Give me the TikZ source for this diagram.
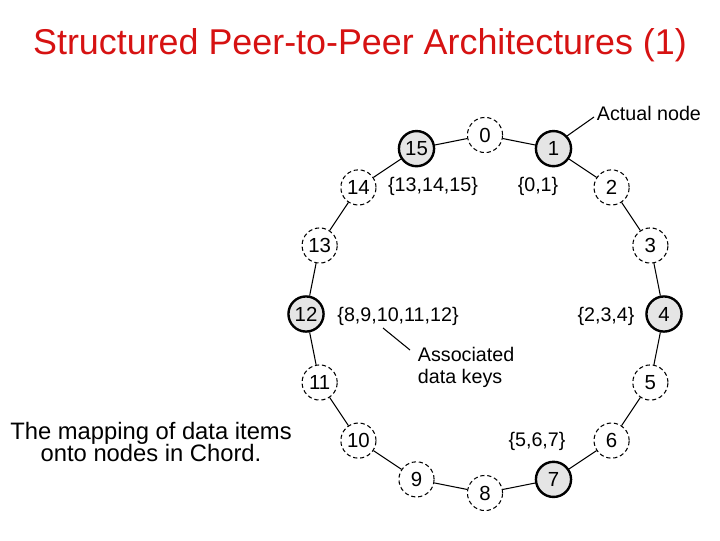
\documentclass[tikz,border=0pt]{standalone}
\usepackage{fontspec}
\setmainfont{Liberation Sans}
\usetikzlibrary{calc}
\definecolor{titlered}{RGB}{214,18,18}
\definecolor{peerfill}{gray}{0.9}

\begin{document}
\begin{tikzpicture}[x=0.025cm,y=-0.025cm,
  peer/.style={circle,draw,densely dashed,line width=0.75pt,minimum size=25pt,
    inner sep=0pt,fill=white,font=\fontsize{14.5}{16}\selectfont},
  actual/.style={peer,solid,line width=1.7pt,fill=peerfill},
  keys/.style={font=\fontsize{14}{16}\selectfont}]
  % Parameters
\def\R{179}      % ring radius

 \useasboundingbox (0,0) rectangle (720,540);
 \coordinate (C) at (485,314);

  % Title and caption
  \node[font=\fontsize{25.5}{30}\selectfont,text=titlered] (title) at (360,45)
    {Structured Peer-to-Peer Architectures (1)};
  \node[font=\fontsize{16.9}{16.3}\selectfont,align=center] (caption) at (151,442)
    {The mapping of data items\\onto nodes in Chord.};

  % Ring of identifiers
  \foreach \k/\s in {0/peer,1/actual,2/peer,3/peer,4/actual,5/peer,6/peer,7/actual,
                     8/peer,9/peer,10/peer,11/peer,12/actual,13/peer,14/peer,15/actual}
    \node[\s] (n\k) at ($(C)+({22.5*\k-90}:\R)$) {\k};
  \foreach \k [evaluate=\k as \j using {int(mod(\k+1,16))}] in {0,...,15}
    \draw[line width=0.75pt] (n\k) -- (n\j);

  % Data keys
\node[keys] (k15) at (433,186) {\{13,14,15\}};
\node[keys] (k1) at (538,186) {\{0,1\}};
\node[keys] (k4) at (606,316) {\{2,3,4\}};
\node[keys] (k12) at (398,316) {\{8,9,10,11,12\}};
\node[keys] (k7) at (537,441) {\{5,6,7\}};

  % Annotations
\node[keys,align=left,anchor=north west] (assoc) at (413,342) {Associated\\data keys};
\node[keys,anchor=west] (actlbl) at (592,113) {Actual node};
 \coordinate (keytip) at (383,328);
  \draw[line width=0.75pt] (keytip) -- ($(assoc.north west)+(-3,8)$);
  \draw[line width=0.75pt] (n1.43) -- ($(actlbl.west)+(2,4)$);

  \end{tikzpicture}
\end{document}
